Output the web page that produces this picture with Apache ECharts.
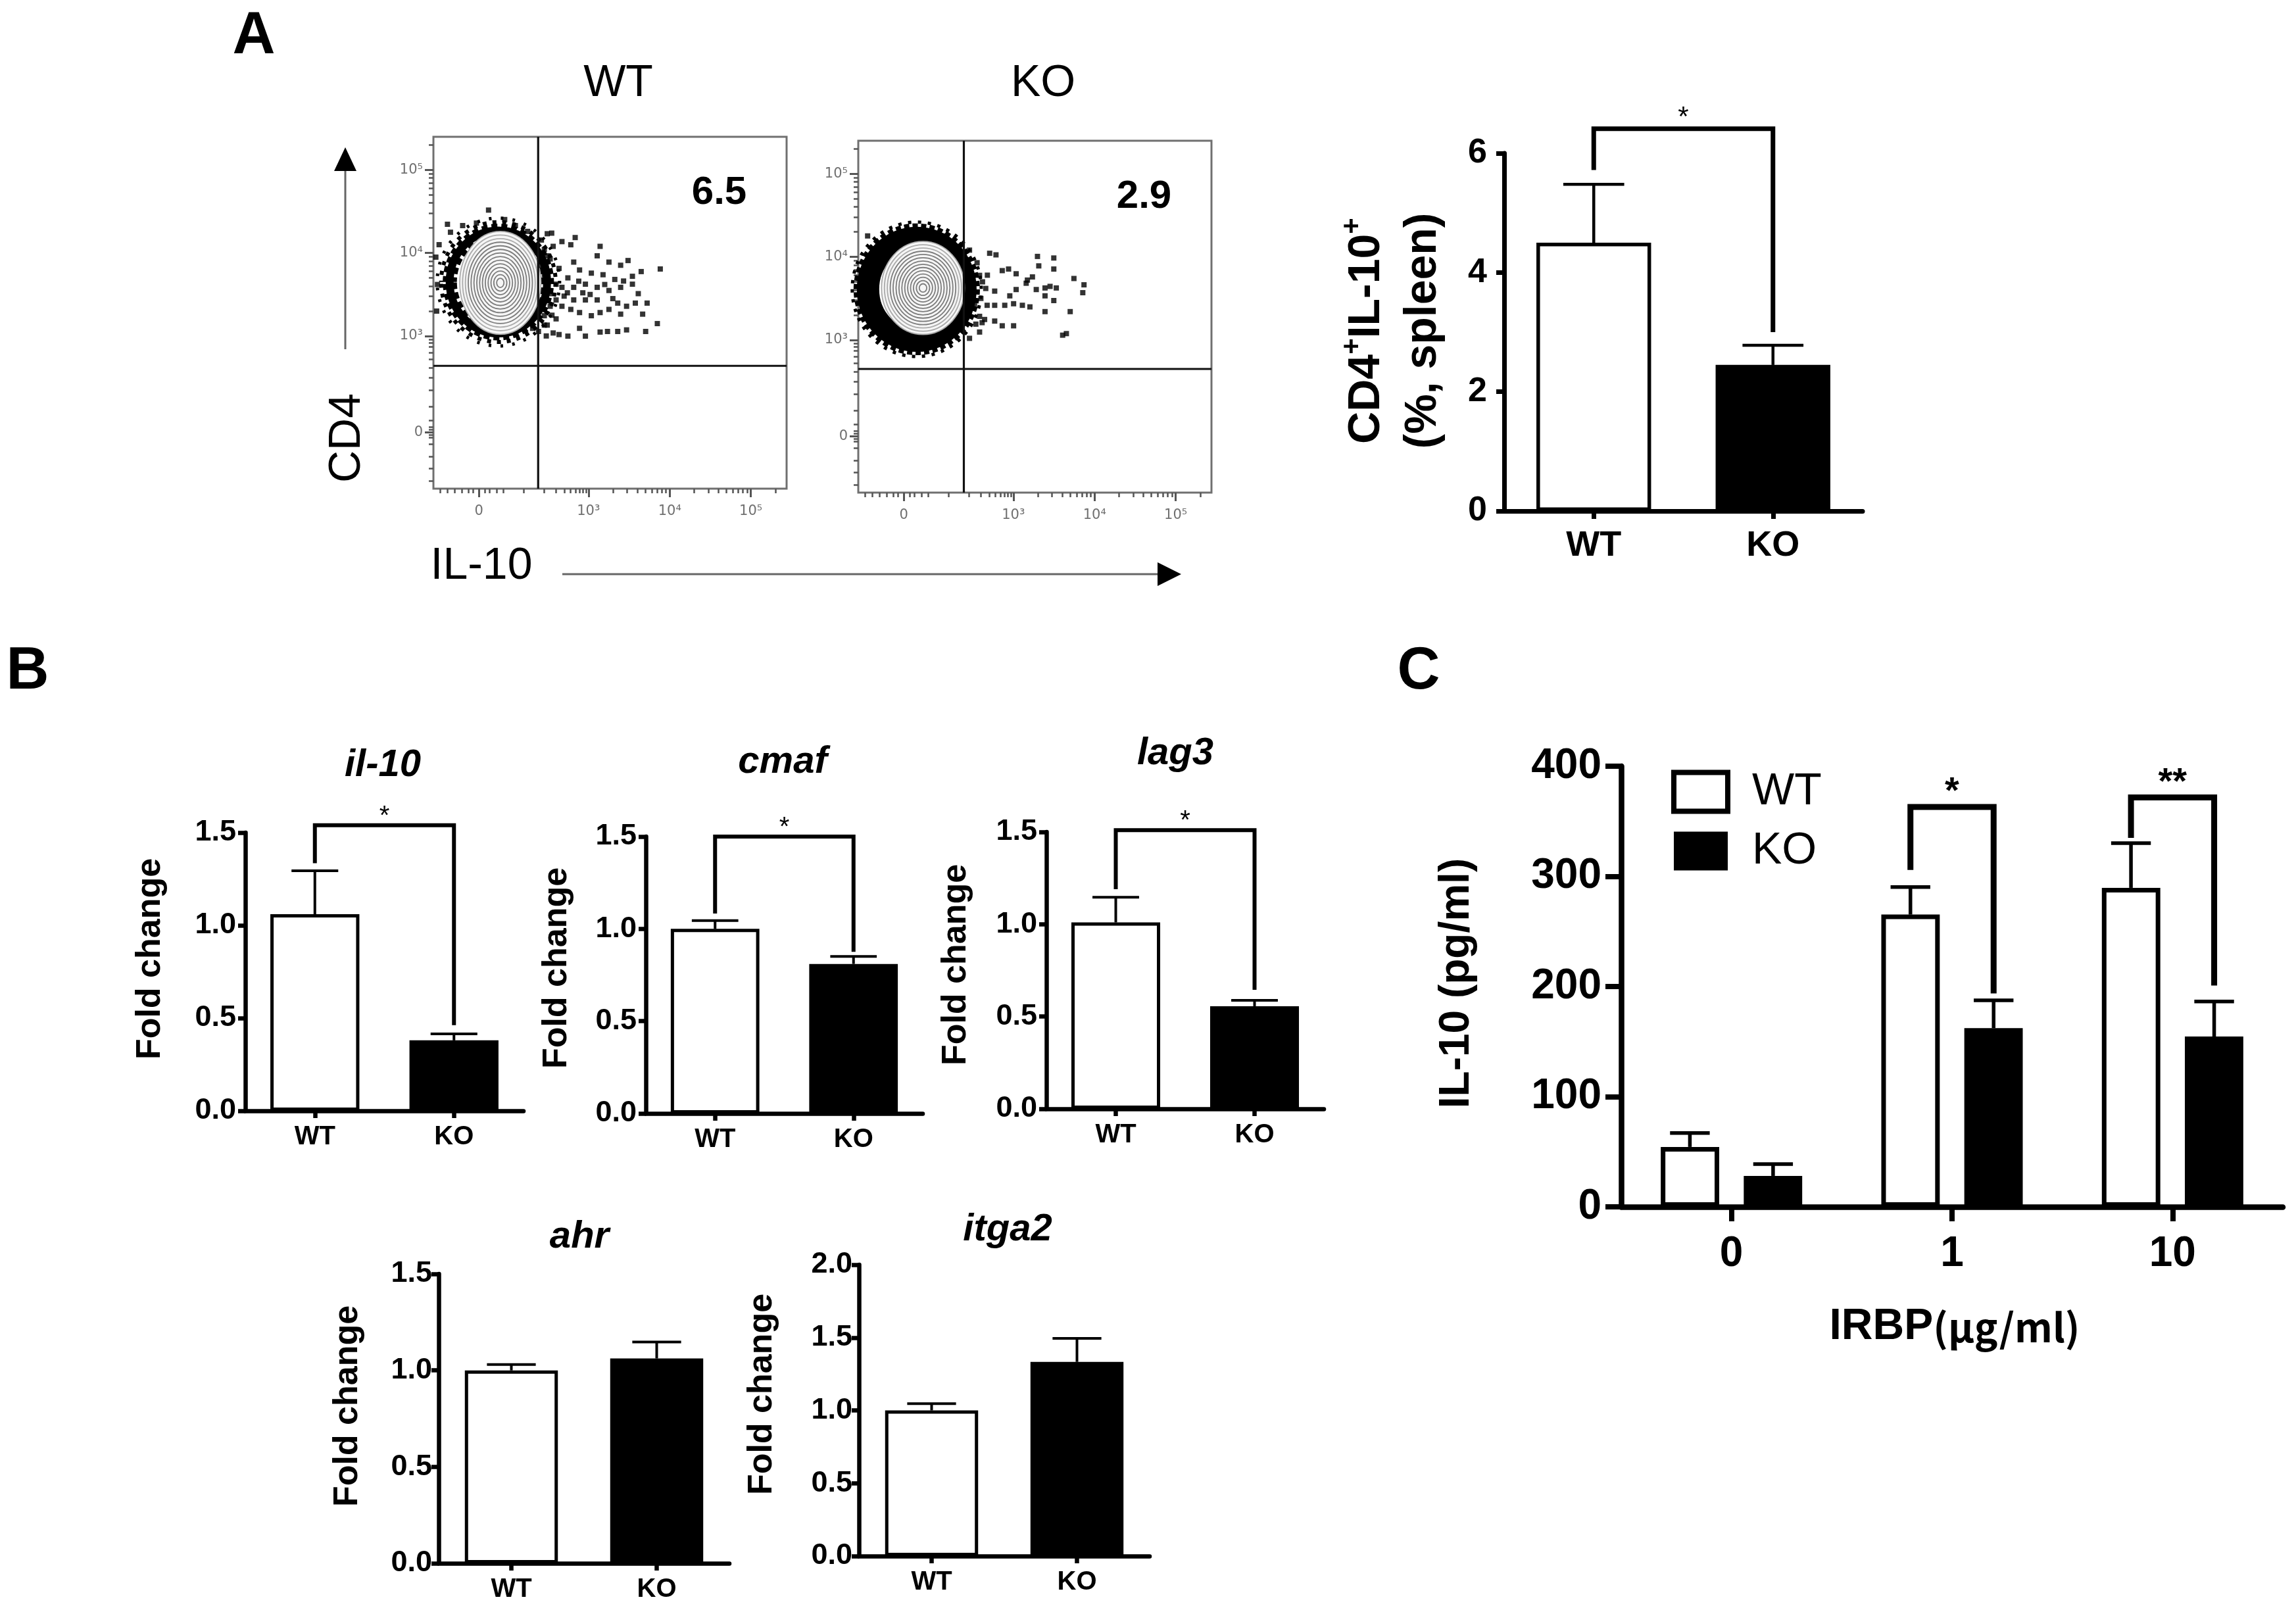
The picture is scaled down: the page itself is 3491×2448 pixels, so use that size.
<!DOCTYPE html>
<html><head><meta charset="utf-8">
<script src="https://cdn.jsdelivr.net/npm/echarts@6/dist/echarts.min.js"></script>
<style>html,body{margin:0;padding:0;background:#fff}#c{width:3491px;height:2448px}</style>
</head><body><div id="c"></div>
<script>
// ================= DATA =================
// Panel A – flow cytometry (display units: decades on the biexponential display scale)
const flowTickValuesX = [1.65, 3, 4, 5];
const flowTickValuesY = [1.84, 3, 4, 5];
const flowTickLabels = ['0', '10³', '10⁴', '10⁵'];
const flowMinorX = [1.17,1.26,1.35,1.44,1.52,1.58,1.72,1.78,1.87,1.95,2.2,2.45,2.6,2.7,2.78,2.84,2.89,2.93,2.97,
  3.301,3.477,3.602,3.699,3.778,3.845,3.903,3.954,4.301,4.477,4.602,4.699,4.778,4.845,4.903,4.954,5.301];
const flowMinorY = [1.25,1.4,1.55,1.7,1.78,1.81,1.87,1.9,1.98,2.15,2.35,2.5,2.62,2.72,2.8,2.87,2.92,2.96,
  3.301,3.477,3.602,3.699,3.778,3.845,3.903,3.954,4.301,4.477,4.602,4.699,4.778,4.845,4.903,4.954,5.301];
const flowRangeX = [1.09, 5.44];
const flowRangeY = [1.16, 5.40];
const wtGate = [2.38, 2.64];
const koGate = [2.39, 2.65];
const wtPercent = '6.5';
const koPercent = '2.9';
const wtContour = [1.914, 3.64, 0.50, 0.62];   // centre x, centre y, radius x, radius y
const koContour = [1.887, 3.626, 0.511, 0.56];
const wtDenseRing = [1.89, 3.65, 0.60, 0.62];
const koDenseRing = [1.81, 3.61, 0.60, 0.62];
const contourLevels = [1, 0.93, 0.86, 0.79, 0.72, 0.65, 0.58, 0.51, 0.44, 0.37, 0.30, 0.23, 0.16, 0.09];
const wtEvents = [
[2.547,4.239],[2.673,4.137],[2.782,4.099],[2.836,4.186],[3.143,4.080],[3.107,3.966],[3.252,3.890],[3.396,3.852],
[3.487,3.909],[3.884,3.807],[3.649,3.776],[3.541,3.719],[3.432,3.662],[3.324,3.681],[3.179,3.738],[3.035,3.757],
[2.890,3.795],[2.818,3.890],[2.746,3.700],[2.673,3.586],[2.818,3.586],[2.962,3.624],[3.107,3.586],[3.252,3.548],
[3.396,3.586],[3.541,3.624],[3.613,3.510],[3.722,3.396],[3.577,3.396],[3.469,3.358],[3.360,3.396],[3.252,3.320],
[3.143,3.282],[3.035,3.244],[2.890,3.282],[2.782,3.320],[2.673,3.358],[2.601,3.434],[2.818,3.434],[2.962,3.434],
[3.107,3.434],[3.396,3.263],[3.667,3.263],[3.848,3.149],[3.704,3.054],[3.469,3.073],[3.360,3.054],[3.234,3.054],
[3.143,3.047],[2.962,2.998],[2.890,3.092],[2.746,2.998],[2.637,3.017],[2.565,3.036],[2.492,3.131],[2.601,3.206],
[2.456,3.244],[2.528,3.510],[2.637,3.814],[2.492,3.966],[2.456,3.738],[1.769,4.517],[1.968,4.403],[1.263,4.346],
[2.420,4.156],[2.456,4.042],[2.528,3.928],[2.565,4.080],[2.492,4.232],[2.601,3.624],[2.528,3.358],[2.456,3.131],
[2.384,3.054],[2.312,3.092],[2.40,3.85],[2.45,3.55],[2.50,3.70],[2.42,3.40],[2.55,3.25],[2.48,3.00],[2.70,3.48],
[2.74,3.52],[2.93,3.52],[3.02,3.50],[2.88,3.66],[3.20,3.62],[3.30,3.45],[1.12,3.95],[1.14,3.62],[1.13,3.30],
[1.16,4.10],[1.30,4.25],[1.45,4.33],[1.62,4.36],[2.10,4.33],[2.25,4.26]
];
const koEvents = [
[2.708,4.044],[2.786,4.025],[2.863,3.835],[2.941,3.854],[3.034,3.797],[3.173,3.721],[3.235,3.759],[3.297,4.006],
[3.313,3.892],[3.498,3.987],[3.498,3.854],[3.746,3.740],[3.870,3.664],[3.855,3.569],[3.034,3.607],[3.158,3.683],
[3.282,3.607],[3.390,3.626],[3.452,3.645],[3.529,3.626],[3.390,3.531],[3.498,3.474],[2.956,3.531],[2.770,3.588],
[2.677,3.417],[2.770,3.417],[2.894,3.417],[3.003,3.436],[3.111,3.417],[3.204,3.398],[3.390,3.341],[3.700,3.341],
[2.584,3.284],[2.646,3.246],[2.538,3.190],[2.615,3.208],[2.770,3.227],[2.863,3.170],[3.003,3.170],[3.607,3.057],
[3.653,3.076],[2.460,3.019],[2.584,3.095],[2.522,3.436],[2.584,3.778],[2.553,3.930],[2.460,4.082],[1.205,4.253],
[1.965,4.291],[2.150,4.253],[1.686,4.234],[2.62,3.70],[2.66,3.62],[2.60,3.50],[2.68,3.78]
];

// Panel A – bar chart
const aCategories = ['WT', 'KO'];
const aMean = [4.50, 2.45];
const aErrTop = [5.48, 2.78];
const aBracket = [6.41, 5.72, 3.0];   // top, left end, right end
const aStars = '*';

// Panel B – qPCR fold change
const bCategories = ['WT', 'KO'];
const il10Mean = [1.06, 0.38];   const il10ErrTop = [1.294, 0.415]; const il10Bracket = [1.54, 1.335, 0.462];
const cmafMean = [1.00, 0.81];   const cmafErrTop = [1.045, 0.851]; const cmafBracket = [1.50, 1.083, 0.876];
const lag3Mean = [1.01, 0.556];  const lag3ErrTop = [1.146, 0.588]; const lag3Bracket = [1.51, 1.19, 0.645];
const ahrMean = [1.00, 1.062];   const ahrErrTop = [1.03, 1.147];
const itga2Mean = [1.00, 1.333]; const itga2ErrTop = [1.046, 1.494];

// Panel C – IL-10 ELISA
const cCategories = ['0', '1', '10'];
const cSeriesNames = ['WT', 'KO'];
const cWTMean = [54.4, 265.3, 289.6];  const cWTErrTop = [67.0, 290.3, 330.1];
const cKOMean = [28.1, 162.2, 154.6];  const cKOErrTop = [38.8, 187.5, 186.4];
const cBracketCats = [1, 2];
const cBracketTop = [363, 371.7];
const cBracketLeftEnd = [305.8, 335];
const cBracketRightEnd = [193.7, 200.9];
const cBracketLabels = ['*', '**'];

// ================= CHART =================
const FONT = '"Liberation Sans", Arial, Helvetica, sans-serif';
const chart = echarts.init(document.getElementById('c'), null, {renderer: 'canvas', width: 3491, height: 2448});
const option = {animation: false, backgroundColor: '#ffffff', grid: [], xAxis: [], yAxis: [], series: [], graphic: []};

function tickFmt(values, labels) {
  return function (v) {
    for (let i = 0; i < values.length; i++) if (Math.abs(values[i] - v) < 1e-6) return labels[i];
    return '';
  };
}

// ---------- flow plot ----------
function addFlow(f) {
  const gi = option.grid.length;
  option.grid.push({left: f.rect[0], top: f.rect[1], width: f.rect[2], height: f.rect[3], show: true,
    borderColor: '#707070', borderWidth: 3, backgroundColor: 'rgba(0,0,0,0)'});
  const xi = option.xAxis.length, yi = option.yAxis.length;
  const lblStyle = {color: '#707070', fontFamily: '"DejaVu Sans", sans-serif', fontSize: 21};
  option.xAxis.push({type: 'value', gridIndex: gi, min: flowRangeX[0], max: flowRangeX[1], position: 'bottom',
    axisLine: {show: false}, splitLine: {show: false},
    axisTick: {show: true, customValues: flowTickValuesX, length: 13, lineStyle: {color: '#555', width: 3}},
    axisLabel: Object.assign({show: true, customValues: flowTickValuesX, margin: 24,
      formatter: tickFmt(flowTickValuesX, flowTickLabels)}, lblStyle)});
  option.xAxis.push({type: 'value', gridIndex: gi, min: flowRangeX[0], max: flowRangeX[1], position: 'bottom', offset: 0,
    axisLine: {show: false}, splitLine: {show: false}, axisLabel: {show: false},
    axisTick: {show: true, customValues: flowMinorX, length: 7, lineStyle: {color: '#555', width: 2.5}}});
  option.yAxis.push({type: 'value', gridIndex: gi, min: flowRangeY[0], max: flowRangeY[1], position: 'left',
    axisLine: {show: false}, splitLine: {show: false},
    axisTick: {show: true, customValues: flowTickValuesY, length: 13, lineStyle: {color: '#555', width: 3}},
    axisLabel: Object.assign({show: true, customValues: flowTickValuesY, margin: 16,
      formatter: tickFmt(flowTickValuesY, flowTickLabels)}, lblStyle)});
  option.yAxis.push({type: 'value', gridIndex: gi, min: flowRangeY[0], max: flowRangeY[1], position: 'left', offset: 0,
    axisLine: {show: false}, splitLine: {show: false}, axisLabel: {show: false},
    axisTick: {show: true, customValues: flowMinorY, length: 7, lineStyle: {color: '#555', width: 2.5}}});

  const ellGeom = (api) => {
    const c = api.coord([api.value(0), api.value(1)]);
    return {cx: c[0], cy: c[1], rx: api.size([api.value(2), 0])[0], ry: api.size([0, api.value(3)])[1]};
  };
  // dense event band around the main population (solid core + dotted outer layers)
  option.series.push({type: 'custom', xAxisIndex: xi, yAxisIndex: yi, z: 2, silent: true,
    data: [f.ring],
    renderItem: (params, api) => {
      const g = ellGeom(api);
      const children = [{type: 'ellipse', shape: g, style: {fill: 'none', stroke: '#000', lineWidth: f.ringSolid}}];
      f.ringLayers.forEach(L => children.push({type: 'ellipse',
        shape: {cx: g.cx, cy: g.cy, rx: g.rx + L[0], ry: g.ry + L[0]},
        style: {fill: 'none', stroke: '#000', lineWidth: L[1], lineDash: L[2], lineDashOffset: L[3]}}));
      return {type: 'group', children: children};
    }});
  // contour lines
  option.series.push({type: 'custom', xAxisIndex: xi, yAxisIndex: yi, z: 3, silent: true,
    data: contourLevels.map(l => [f.contour[0], f.contour[1], f.contour[2] * l, f.contour[3] * l]),
    renderItem: (params, api) => ({type: 'ellipse', shape: ellGeom(api),
      style: {fill: params.dataIndex === 0 ? '#f6f6f6' : 'none',
        stroke: params.dataIndex < 3 ? '#ababab' : '#7d7d7d', lineWidth: 1.8}})});
  // individual events
  option.series.push({type: 'scatter', xAxisIndex: xi, yAxisIndex: yi, z: 4, silent: true,
    symbol: 'rect', symbolSize: 8, itemStyle: {color: '#000'}, data: f.events});
  // quadrant gate
  option.series.push({type: 'custom', xAxisIndex: xi, yAxisIndex: yi, z: 5, silent: true,
    data: [f.gate],
    renderItem: (params, api) => {
      const cs = params.coordSys;
      const p = api.coord([api.value(0), api.value(1)]);
      return {type: 'group', children: [
        {type: 'line', shape: {x1: p[0], y1: cs.y, x2: p[0], y2: cs.y + cs.height}, style: {stroke: '#111', lineWidth: 3.2}},
        {type: 'line', shape: {x1: cs.x, y1: p[1], x2: cs.x + cs.width, y2: p[1]}, style: {stroke: '#111', lineWidth: 3.2}}
      ]};
    }});
  // quadrant percentage
  option.series.push({type: 'scatter', xAxisIndex: xi, yAxisIndex: yi, z: 6, silent: true, symbolSize: 0,
    data: [[4.61, 4.72]],
    label: {show: true, position: 'inside', formatter: f.percent, color: '#000', opacity: 1,
      fontFamily: FONT, fontWeight: 'bold', fontSize: 60}});
}

addFlow({rect: [659, 208, 537, 535], gate: wtGate, percent: wtPercent, contour: wtContour,
  ring: wtDenseRing, ringSolid: 12, events: wtEvents,
  ringLayers: [[7, 7, [9, 6], 0], [13, 6, [6, 9], 4], [19, 5, [4, 14], 9], [-8, 6, [10, 5], 3]]});
addFlow({rect: [1305, 214, 537, 535], gate: koGate, percent: koPercent, contour: koContour,
  ring: koDenseRing, ringSolid: 34, events: koEvents,
  ringLayers: [[19, 6, [8, 5], 0], [24, 5, [5, 10], 6]]});

// ---------- bar plot helpers ----------
function errRender(offFrac, capHalfFrac, lw) {
  return function (params, api) {
    const c = api.value(0);
    const band = api.size([1, 0])[0];
    const p0 = api.coord([c, api.value(1)]);
    const p1 = api.coord([c, api.value(2)]);
    const x = p0[0] + offFrac * band, hw = capHalfFrac * band;
    return {type: 'group', children: [
      {type: 'line', shape: {x1: x, y1: p0[1], x2: x, y2: p1[1]}, style: {stroke: '#000', lineWidth: lw}},
      {type: 'line', shape: {x1: x - hw, y1: p1[1], x2: x + hw, y2: p1[1]}, style: {stroke: '#000', lineWidth: lw}}
    ]};
  };
}
function bracketRender(labels, offL, offR, lw, starFont, starDy) {
  return function (params, api) {
    const band = api.size([1, 0])[0];
    const cL = api.value(0), cR = api.value(1);
    const pT = api.coord([cL, api.value(2)]);
    const xL = pT[0] + offL * band;
    const xR = api.coord([cR, api.value(2)])[0] + offR * band;
    const yT = pT[1];
    const yL = api.coord([cL, api.value(3)])[1];
    const yR = api.coord([cR, api.value(4)])[1];
    return {type: 'group', children: [
      {type: 'polyline', shape: {points: [[xL, yL], [xL, yT], [xR, yT], [xR, yR]]},
        style: {stroke: '#000', lineWidth: lw, fill: 'none', lineJoin: 'miter', lineCap: 'butt'}},
      {type: 'text', x: (xL + xR) / 2, y: yT + starDy,
        style: {text: labels[params.dataIndex], font: starFont, fill: '#000',
          textAlign: 'center', textVerticalAlign: 'middle', align: 'center', verticalAlign: 'middle'}}
    ]};
  };
}

function addBarPanel(p) {
  const gi = option.grid.length;
  option.grid.push({left: p.rect[0], top: p.rect[1], width: p.rect[2], height: p.rect[3]});
  const xi = option.xAxis.length, yi = option.yAxis.length;
  option.xAxis.push({type: 'category', gridIndex: gi, data: p.cats, boundaryGap: true,
    axisLine: {show: true, lineStyle: {color: '#000', width: p.axisW}},
    axisTick: {show: true, alignWithLabel: true, length: p.tickLen, lineStyle: {color: '#000', width: p.axisW}},
    axisLabel: {show: true, interval: 0, margin: p.xMargin, color: '#000', fontFamily: FONT, fontWeight: 'bold', fontSize: p.xSize},
    splitLine: {show: false}});
  option.yAxis.push({type: 'value', gridIndex: gi, min: 0, max: p.max, interval: p.interval,
    axisLine: {show: true, lineStyle: {color: '#000', width: p.axisW}},
    axisTick: {show: true, length: p.tickLen, lineStyle: {color: '#000', width: p.axisW}},
    axisLabel: {margin: p.yMargin, color: '#000', fontFamily: FONT, fontWeight: 'bold', fontSize: p.ySize, formatter: p.fmt},
    splitLine: {show: false}});
  option.series.push({type: 'bar', xAxisIndex: xi, yAxisIndex: yi, barWidth: p.barWidth, z: 3, silent: true,
    data: p.means.map((v, k) => ({value: v, itemStyle: k === 0
      ? {color: '#fff', borderColor: '#000', borderWidth: p.borderW}
      : {color: '#000', borderColor: '#000', borderWidth: p.borderW}}))});
  option.series.push({type: 'custom', xAxisIndex: xi, yAxisIndex: yi, z: 2, silent: true,
    data: p.means.map((v, k) => [k, v, p.errs[k]]),
    renderItem: errRender(0, p.capHalf, p.errW)});
  if (p.bracket) {
    option.series.push({type: 'custom', xAxisIndex: xi, yAxisIndex: yi, z: 4, silent: true,
      data: [[0, 1, p.bracket[0], p.bracket[1], p.bracket[2]]],
      renderItem: bracketRender([p.star], 0, 0, p.bracketW, p.starFont, p.starDy)});
  }
}

const fmt1 = v => v.toFixed(1);
// Panel A bar
addBarPanel({rect: [2287, 233, 545, 544], cats: aCategories, means: aMean, errs: aErrTop, max: 6, interval: 2,
  fmt: v => String(v), axisW: 7, tickLen: 12, xSize: 54, ySize: 52, xMargin: 26, yMargin: 26, barWidth: '64%',
  borderW: 5.5, errW: 4.5, capHalf: 0.17, bracket: aBracket, star: aStars, bracketW: 7,
  starFont: '42px ' + FONT, starDy: -16});
// Panel B
const bCommon = {cats: bCategories, interval: 0.5, fmt: fmt1, axisW: 6.5, tickLen: 11, xSize: 40, ySize: 45,
  xMargin: 20, yMargin: 14, barWidth: '64%', borderW: 5, errW: 4, capHalf: 0.168, bracketW: 6,
  starFont: '40px ' + FONT, starDy: -13, star: '*'};
addBarPanel(Object.assign({}, bCommon, {rect: [373, 1266, 423, 423], means: il10Mean, errs: il10ErrTop, max: 1.5, bracket: il10Bracket}));
addBarPanel(Object.assign({}, bCommon, {rect: [982, 1272, 421, 421], means: cmafMean, errs: cmafErrTop, max: 1.5, bracket: cmafBracket}));
addBarPanel(Object.assign({}, bCommon, {rect: [1591, 1265, 422, 421], means: lag3Mean, errs: lag3ErrTop, max: 1.5, bracket: lag3Bracket}));
addBarPanel(Object.assign({}, bCommon, {rect: [667, 1937, 442, 440], means: ahrMean, errs: ahrErrTop, max: 1.5, yMargin: 10}));
addBarPanel(Object.assign({}, bCommon, {rect: [1306, 1923, 442, 443], means: itga2Mean, errs: itga2ErrTop, max: 2.0, yMargin: 10}));

// Panel C grouped bars
(function () {
  const gi = option.grid.length;
  option.grid.push({left: 2465, top: 1165, width: 1006, height: 670});
  const xi = option.xAxis.length, yi = option.yAxis.length;
  option.xAxis.push({type: 'category', gridIndex: gi, data: cCategories, boundaryGap: true,
    axisLine: {show: true, lineStyle: {color: '#000', width: 8.5}},
    axisTick: {show: true, alignWithLabel: true, length: 22, lineStyle: {color: '#000', width: 8}},
    axisLabel: {show: true, interval: 0, margin: 40, color: '#000', fontFamily: FONT, fontWeight: 'bold', fontSize: 64},
    splitLine: {show: false}});
  option.yAxis.push({type: 'value', gridIndex: gi, min: 0, max: 400, interval: 100,
    axisLine: {show: true, lineStyle: {color: '#000', width: 8.5}},
    axisTick: {show: true, length: 24, lineStyle: {color: '#000', width: 8}},
    axisLabel: {margin: 30, color: '#000', fontFamily: FONT, fontWeight: 'bold', fontSize: 64},
    splitLine: {show: false}});
  const off = 0.1886;
  option.series.push({type: 'bar', name: cSeriesNames[0], xAxisIndex: xi, yAxisIndex: yi, barWidth: '26.5%', barGap: '42%',
    z: 3, silent: true, itemStyle: {color: '#fff', borderColor: '#000', borderWidth: 7}, data: cWTMean});
  option.series.push({type: 'bar', name: cSeriesNames[1], xAxisIndex: xi, yAxisIndex: yi, barWidth: '26.5%', barGap: '42%',
    z: 3, silent: true, itemStyle: {color: '#000', borderColor: '#000', borderWidth: 7}, data: cKOMean});
  option.series.push({type: 'custom', xAxisIndex: xi, yAxisIndex: yi, z: 2, silent: true,
    data: cWTMean.map((v, k) => [k, v, cWTErrTop[k]]), renderItem: errRender(-off, 0.09, 5.5)});
  option.series.push({type: 'custom', xAxisIndex: xi, yAxisIndex: yi, z: 2, silent: true,
    data: cKOMean.map((v, k) => [k, v, cKOErrTop[k]]), renderItem: errRender(off, 0.09, 5.5)});
  option.series.push({type: 'custom', xAxisIndex: xi, yAxisIndex: yi, z: 4, silent: true,
    data: cBracketCats.map((c, k) => [c, c, cBracketTop[k], cBracketLeftEnd[k], cBracketRightEnd[k]]),
    renderItem: bracketRender(cBracketLabels, -off, off, 9, 'bold 56px ' + FONT, -22)});
  option.legend = {show: true, selectedMode: false, orient: 'vertical', left: 2536, top: 1165, itemWidth: 82, itemHeight: 59,
    itemGap: 22, icon: 'rect',
    textStyle: {fontFamily: FONT, fontSize: 68, color: '#000', lineHeight: 60, padding: [0, 0, 0, 32]},
    data: [{name: cSeriesNames[0], itemStyle: {color: '#fff', borderColor: '#000', borderWidth: 8}},
           {name: cSeriesNames[1], itemStyle: {color: '#000', borderColor: '#000', borderWidth: 0}}]};
})();

// ---------- text / decorations ----------
function txt(x, y, text, font, rot, rich) {
  const el = {type: 'text', x: x, y: y, rotation: rot || 0, silent: true,
    style: {text: text, font: font, fill: '#000', textAlign: 'center', textVerticalAlign: 'middle',
      align: 'center', verticalAlign: 'middle'}};
  if (rich) el.style.rich = rich;
  return el;
}
const R90 = Math.PI / 2;
const BI = 'italic bold 58px ' + FONT;
const FC = 'bold 52px ' + FONT;
option.graphic = [
  txt(386, 56, 'A', 'bold 90px ' + FONT),
  txt(42, 1022, 'B', 'bold 90px ' + FONT),
  txt(2157, 1022, 'C', 'bold 90px ' + FONT),
  txt(940, 127, 'WT', '68px ' + FONT),
  txt(1586, 127, 'KO', '68px ' + FONT),
  txt(528, 666, 'CD4', '68px ' + FONT, R90),
  txt(732, 861, 'IL-10', '68px ' + FONT),
  {type: 'line', silent: true, shape: {x1: 525, y1: 531, x2: 525, y2: 255}, style: {stroke: '#666', lineWidth: 3}},
  {type: 'polygon', silent: true, shape: {points: [[508, 260], [525, 224], [542, 260]]}, style: {fill: '#000'}},
  {type: 'line', silent: true, shape: {x1: 855, y1: 873, x2: 1765, y2: 873}, style: {stroke: '#666', lineWidth: 3}},
  {type: 'polygon', silent: true, shape: {points: [[1760, 855], [1796, 873], [1760, 891]]}, style: {fill: '#000'}},
  txt(2121, 503, '{a|CD4}{s|+}{a|IL-10}{s|+}\n{a|(%, spleen)}', 'bold 68px ' + FONT, R90, {
    a: {font: 'bold 68px ' + FONT, fill: '#000', lineHeight: 86},
    s: {font: 'bold 42px ' + FONT, fill: '#000', lineHeight: 42, verticalAlign: 'top'}}),
  txt(582, 1164, 'il-10', BI),
  txt(1190, 1159, 'cmaf', BI),
  txt(1787, 1146, 'lag3', BI),
  txt(881, 1881, 'ahr', BI),
  txt(1532, 1870, 'itga2', BI),
  txt(229, 1458, 'Fold change', FC, R90),
  txt(847, 1472, 'Fold change', FC, R90),
  txt(1454, 1467, 'Fold change', FC, R90),
  txt(529, 2138, 'Fold change', FC, R90),
  txt(1159, 2120, 'Fold change', FC, R90),
  txt(2215, 1495, 'IL-10 (pg/ml)', 'bold 64px ' + FONT, R90),
  txt(2972, 2018, '{a|IRBP}{b|(μg/ml)}', 'bold 64px ' + FONT, 0, {
    a: {font: 'bold 66px ' + FONT, fill: '#000'},
    b: {font: 'bold 60px "Noto Sans CJK SC", sans-serif', fill: '#000'}})
];

chart.setOption(option);
</script></body></html>
